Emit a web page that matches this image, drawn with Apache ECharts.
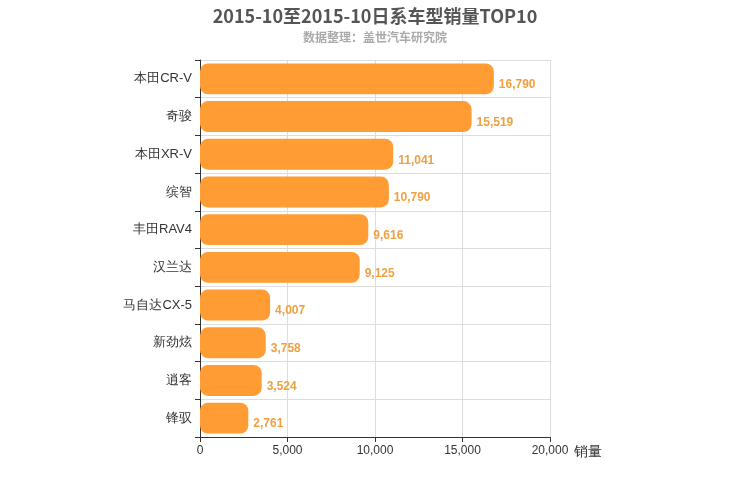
<!DOCTYPE html>
<html><head><meta charset="utf-8">
<script src="https://cdn.jsdelivr.net/npm/echarts@6/dist/echarts.min.js"></script>
</head><body style="margin:0">
<div id="c" style="width:750px;height:500px"></div>
<script>
const categories = ["本田CR-V","奇骏","本田XR-V","缤智","丰田RAV4","汉兰达","马自达CX-5","新劲炫","逍客","锋驭"];
const sales = [16790,15519,11041,10790,9616,9125,4007,3758,3524,2761];
const chart = echarts.init(document.getElementById('c'));
chart.setOption({
  title: {text: '2015-10至2015-10日系车型销量TOP10', subtext: '数据整理：盖世汽车研究院', left: 'center', top: 2,
    textStyle: {fontSize: 18, fontWeight: 'bold', color: '#555', fontFamily: 'Noto Sans CJK SC'},
    subtextStyle: {fontSize: 12, color: '#aaa', fontWeight: 'bold', fontFamily: 'Noto Sans CJK SC'}, itemGap: 6},
  grid: {left: 200, right: 200, top: 60, bottom: 63},
  xAxis: {type: 'value', min: 0, max: 20000, interval: 5000, name: '销量', nameGap: 15,
    nameTextStyle: {fontSize: 14, color: '#333', verticalAlign: 'top', padding: [8,0,0,0]},
    axisLine: {show: true, lineStyle: {color: '#333'}}, axisTick: {show: true},
    axisLabel: {color: '#333', fontSize: 12}, splitLine: {lineStyle: {color: '#ddd'}}},
  yAxis: {type: 'category', data: categories, inverse: true,
    axisLine: {lineStyle: {color: '#333'}}, axisTick: {show: true},
    axisLabel: {color: '#333', fontSize: 13}, splitLine: {show: true, lineStyle: {color: '#ddd'}}},
  series: [{type: 'bar', data: sales, barWidth: '82%',
    itemStyle: {color: '#ff9c33', borderRadius: 8},
    label: {show: true, position: 'right', color: '#f0a040', fontWeight: 'bold', fontSize: 12, offset: [0, 6],
      formatter: p => p.value.toLocaleString('en-US')}}]
});
</script></body></html>
